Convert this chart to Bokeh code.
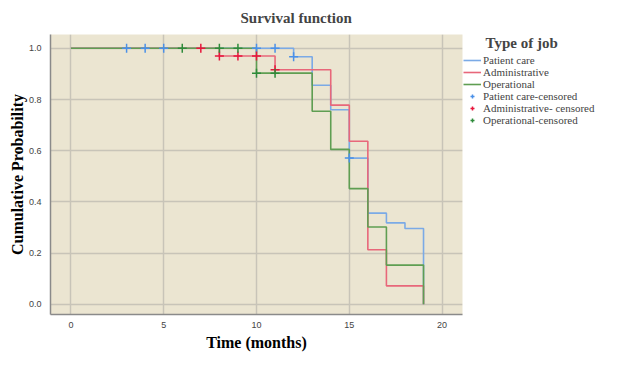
from bokeh.plotting import figure
from bokeh.models import Range1d, Legend, LegendItem, FixedTicker, CustomJSTickFormatter
from bokeh.embed import file_html
from bokeh.resources import INLINE

# Kaplan-Meier step data (time in months, cumulative survival)
pc_t = [0, 12, 13, 14, 15, 16, 17, 18, 19]
pc_s = [1.0, 0.967, 0.856, 0.760, 0.571, 0.356, 0.318, 0.296, 0.0]
ad_t = [0, 8, 11, 14, 15, 16, 17, 19]
ad_s = [1.0, 0.970, 0.916, 0.778, 0.637, 0.213, 0.072, 0.0]
op_t = [0, 10, 13, 14, 15, 16, 17, 19]
op_s = [1.0, 0.903, 0.754, 0.605, 0.452, 0.302, 0.153, 0.0]

# censored observations
pc_ct = [3, 4, 5, 10, 11, 12, 15]
pc_cs = [1.0, 1.0, 1.0, 1.0, 1.0, 0.967, 0.571]
ad_ct = [7, 8, 9, 10, 11]
ad_cs = [1.0, 0.970, 0.970, 0.970, 0.916]
op_ct = [6, 8, 9, 10, 11]
op_cs = [1.0, 1.0, 1.0, 0.903, 0.903]

x_ticks = [0, 5, 10, 15, 20]
y_ticks = [0.0, 0.2, 0.4, 0.6, 0.8, 1.0]

SERIF = "Liberation Serif"
SANS = "Liberation Sans"

p = figure(output_backend="svg", toolbar_location=None,
           x_range=Range1d(-1.1, 21.1), y_range=Range1d(-0.04, 1.054),
           min_border_left=50, min_border_right=150, min_border_top=33, min_border_bottom=50)
p.frame_width = 412
p.frame_height = 280

p.background_fill_color = "#EBE5D1"
p.border_fill_color = "white"
p.outline_line_color = None

p.title.text = "Survival function"
p.title.text_font = SERIF
p.title.text_font_size = "15px"
p.title.text_font_style = "bold"
p.title.align = "left"
p.title.offset = 190
p.title.standoff = 16
p.title.vertical_align = "middle"

for ax in (p.xaxis[0], p.yaxis[0]):
    ax.axis_line_color = "#8A8A8A"
    ax.axis_line_width = 1.5
    ax.major_tick_line_color = None
    ax.minor_tick_line_color = None
    ax.major_label_text_font = SANS
    ax.major_label_text_font_size = "9px"
    ax.major_label_text_color = "#444444"
    ax.axis_label_text_font = SERIF
    ax.axis_label_text_font_size = "16px"
    ax.axis_label_text_font_style = "bold"
    ax.axis_label_text_color = "black"

p.xaxis.ticker = FixedTicker(ticks=x_ticks)
p.yaxis.ticker = FixedTicker(ticks=y_ticks)
p.yaxis.formatter = CustomJSTickFormatter(code="return tick.toFixed(1);")
p.xaxis.axis_label = "Time (months)"
p.yaxis.axis_label = "Cumulative Probability"
p.xaxis.major_label_standoff = 1
p.yaxis.major_label_standoff = 3
p.xaxis.axis_label_standoff = 3
p.yaxis.axis_label_standoff = 0

p.grid.grid_line_color = "#C8C4B8"
p.grid.grid_line_width = 1.5

BLUE_L, RED_L, GREEN_L = "#7BAAE6", "#E8677A", "#5F9E52"
BLUE_C, RED_C, GREEN_C = "#4A90E8", "#E8163C", "#2E8B3A"

r1 = p.step(pc_t, pc_s, mode="after", line_color=BLUE_L, line_width=1.6)
r2 = p.step(ad_t, ad_s, mode="after", line_color=RED_L, line_width=1.6)
r3 = p.step(op_t, op_s, mode="after", line_color=GREEN_L, line_width=1.6)
c1 = p.scatter(pc_ct, pc_cs, marker="cross", size=9, line_color=BLUE_C, line_width=1.5)
c2 = p.scatter(ad_ct, ad_cs, marker="cross", size=9, line_color=RED_C, line_width=1.5)
c3 = p.scatter(op_ct, op_cs, marker="cross", size=9, line_color=GREEN_C, line_width=1.5)

legend = Legend(items=[
    LegendItem(label="Patient care", renderers=[r1]),
    LegendItem(label="Administrative", renderers=[r2]),
    LegendItem(label="Operational", renderers=[r3]),
    LegendItem(label="Patient care-censored", renderers=[c1]),
    LegendItem(label="Administrative- censored", renderers=[c2]),
    LegendItem(label="Operational-censored", renderers=[c3]),
], location="top_left", orientation="vertical")
legend.title = "\u00a0\u00a0\u00a0\u00a0\u00a0\u00a0Type of job"
legend.title_text_font = SERIF
legend.title_text_font_size = "15px"
legend.title_text_font_style = "bold"
legend.title_standoff = 2
legend.label_text_font = SERIF
legend.label_text_font_size = "11px"
legend.label_height = 10
legend.glyph_height = 10
legend.glyph_width = 18
legend.spacing = 0
legend.padding = 0
legend.margin = 1
legend.label_standoff = 2
legend.border_line_color = None
legend.background_fill_alpha = 0
p.add_layout(legend, "right")

open("out.html", "w").write(file_html(p, INLINE))
